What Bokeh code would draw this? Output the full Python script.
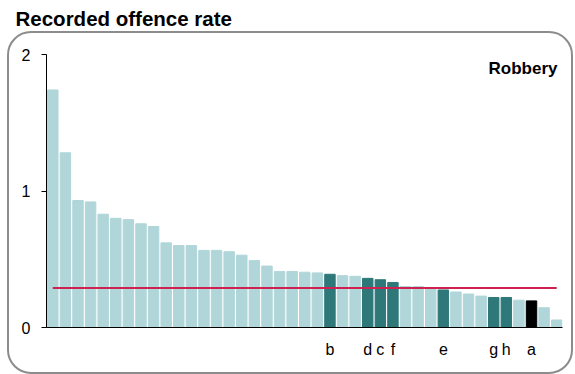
from bokeh.plotting import figure
from bokeh.layouts import column
from bokeh.models import (ColumnDataSource, Range1d, FixedTicker, Label,
                          InlineStyleSheet)
from bokeh.embed import file_html
from bokeh.resources import INLINE

# ---- data -------------------------------------------------------------
values = [1.74, 1.28, 0.93, 0.92, 0.83, 0.80, 0.79, 0.76, 0.74, 0.62,
          0.60, 0.60, 0.565, 0.565, 0.555, 0.53, 0.49, 0.45, 0.41, 0.41,
          0.405, 0.40, 0.39, 0.38, 0.375, 0.36, 0.35, 0.33, 0.30, 0.30,
          0.29, 0.275, 0.26, 0.245, 0.23, 0.22, 0.22, 0.20, 0.195, 0.145,
          0.055]
# group of each bar: 0 = other areas, 1 = comparison areas, 2 = this area
groups = [0, 0, 0, 0, 0, 0, 0, 0, 0, 0,
          0, 0, 0, 0, 0, 0, 0, 0, 0, 0,
          0, 0, 1, 0, 0, 1, 1, 1, 0, 0,
          0, 1, 0, 0, 0, 1, 1, 0, 2, 0,
          0]
label_positions = [22, 25, 26, 27, 31, 35, 36, 38]
label_texts = ["b", "d", "c", "f", "e", "g", "h", "a"]
average = 0.29
y_ticks = [0, 1, 2]
title_text = "Recorded offence rate"
panel_text = "Robbery"

palette = ["#B0D6D9", "#2F7879", "#000000"]

FONT = "Liberation Sans"
W = 575
H_TITLE = 31
H_MAIN = 343
n = len(values)
xs = list(range(n))

# ---- title strip -------------------------------------------------------
tfig = figure(width=W, height=H_TITLE, output_backend="svg",
              toolbar_location=None, x_axis_type=None, y_axis_type=None,
              x_range=Range1d(0, 1), y_range=Range1d(0, 1), min_border=0,
              frame_align=False)
tfig.outline_line_color = None
tfig.background_fill_color = "white"
tfig.border_fill_color = "white"
tfig.add_layout(Label(x=15, y=12.7, x_units="screen", y_units="screen",
                      text=title_text, text_font=FONT, text_font_style="bold",
                      text_font_size="20.5px", text_baseline="alphabetic",
                      text_color="black"))

# ---- main chart --------------------------------------------------------
p = figure(width=W, height=H_MAIN, output_backend="svg",
           toolbar_location=None,
           x_range=Range1d(-0.5, n - 0.54), y_range=Range1d(0, 2),
           min_border_left=46, min_border_right=13,
           min_border_top=23, min_border_bottom=47,
           frame_align=False)
p.outline_line_color = None
p.xgrid.visible = False
p.ygrid.visible = False
p.background_fill_color = "white"
p.border_fill_color = "white"

src = ColumnDataSource(dict(x=xs, top=values,
                            color=[palette[g] for g in groups]))
p.vbar(x="x", top="top", bottom=0, width=0.83, color="color", source=src)

p.line(x=[xs[0], xs[-1]], y=[average, average], line_color="#CE2150",
       line_width=2)

ya = p.yaxis[0]
ya.ticker = FixedTicker(ticks=y_ticks, minor_ticks=[])
ya.major_tick_out = 5
ya.major_tick_in = 0
ya.minor_tick_out = 0
ya.minor_tick_in = 0
ya.major_label_standoff = 11
ya.major_label_text_font = FONT
ya.major_label_text_font_size = "16px"
ya.major_label_text_color = "black"
ya.axis_line_color = "black"
ya.major_tick_line_color = "black"

xa = p.xaxis[0]
xa.ticker = FixedTicker(ticks=label_positions, minor_ticks=[])
xa.major_label_overrides = {k: v for k, v in zip(label_positions, label_texts)}
xa.major_tick_out = 0
xa.major_tick_in = 0
xa.minor_tick_out = 0
xa.minor_tick_in = 0
xa.major_label_standoff = 13
xa.major_label_text_font = FONT
xa.major_label_text_font_size = "16px"
xa.major_label_text_color = "black"
xa.axis_line_color = "black"

p.add_layout(Label(x=511, y=258.7, x_units="screen", y_units="screen",
                   text=panel_text, text_font=FONT, text_font_style="bold",
                   text_font_size="17px", text_align="right",
                   text_baseline="alphabetic", text_color="black"))

# rounded panel outline around the chart (decoration only)
frame_css = InlineStyleSheet(css="""
:host { position: relative; }
:host::after {
  content: "";
  position: absolute;
  left: 7px; top: 31px; width: 566px; height: 343px;
  box-sizing: border-box;
  border: 2px solid #8C8C8C;
  border-radius: 24px;
  pointer-events: none;
  z-index: 10;
}
""")

layout = column(tfig, p, spacing=0, stylesheets=[frame_css])

open("out.html", "w").write(file_html(layout, INLINE))
